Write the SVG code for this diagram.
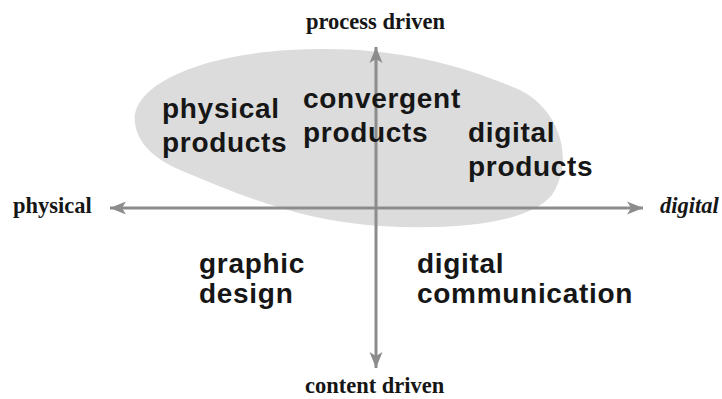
<svg xmlns="http://www.w3.org/2000/svg" width="722" height="399" viewBox="0 0 722 399">
  <style>
    .big { font-family: "Liberation Sans", Arial, sans-serif; font-weight: bold; font-size: 28px; letter-spacing: 0.7px; fill: #161616; }
    .axis-label { font-family: "Liberation Serif", "Times New Roman", serif; font-weight: bold; font-size: 22.5px; fill: #161616; }
    .axis { stroke: #8c8c8c; stroke-width: 3; fill: none; }
  </style>
  <defs>
    <marker id="arrow" markerUnits="userSpaceOnUse" markerWidth="18" markerHeight="14" refX="16" refY="6.5" orient="auto-start-reverse" viewBox="0 0 18 13">
      <path d="M0,0 L16,6.5 L0,13 L4,6.5 Z" fill="#8c8c8c"/>
    </marker>
  </defs>
  <rect width="722" height="399" fill="#ffffff"/>

  <g id="region-products">
    <path d="M135,123 C130,85 200,55 290,50 C380,45 450,60 520,90 C560,110 575,160 552,195 C527,225 450,230 380,226 C300,221 240,195 180,170 C150,157 137,140 135,123 Z" fill="#dcdcdc"/>
  </g>

  <g id="connectors">
    <line class="axis" x1="110" y1="208" x2="643" y2="208" marker-start="url(#arrow)" marker-end="url(#arrow)"/>
    <line class="axis" x1="376" y1="368" x2="376" y2="47" marker-start="url(#arrow)" marker-end="url(#arrow)"/>
  </g>

  <g id="label-process-driven"><text class="axis-label" x="306" y="29">process driven</text></g>
  <g id="label-content-driven"><text class="axis-label" x="305" y="393">content driven</text></g>
  <g id="label-physical"><text class="axis-label" x="13" y="213">physical</text></g>
  <g id="label-digital"><text class="axis-label" x="660" y="213" font-style="italic" font-size="22px">digital</text></g>

  <g id="node-physical-products">
    <text class="big" x="162" y="118">physical</text>
    <text class="big" x="162" y="152">products</text>
  </g>
  <g id="node-convergent-products">
    <text class="big" x="303" y="108">convergent</text>
    <text class="big" x="303" y="142">products</text>
  </g>
  <g id="node-digital-products">
    <text class="big" x="468" y="142">digital</text>
    <text class="big" x="468" y="176">products</text>
  </g>
  <g id="node-graphic-design">
    <text class="big" x="199" y="273">graphic</text>
    <text class="big" x="199" y="303">design</text>
  </g>
  <g id="node-digital-communication">
    <text class="big" x="417" y="273">digital</text>
    <text class="big" x="417" y="303">communication</text>
  </g>
</svg>
